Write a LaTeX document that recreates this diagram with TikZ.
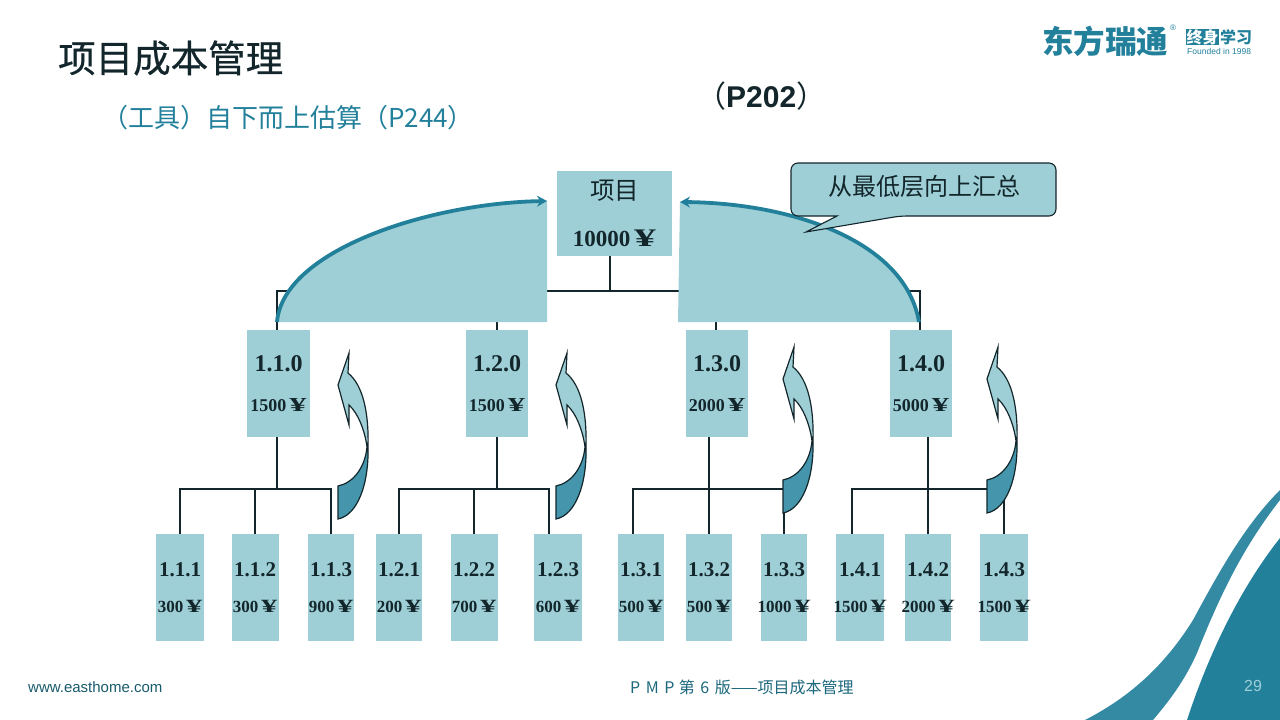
\documentclass[tikz,border=0pt]{standalone}
\usepackage{fontspec}
\setmainfont{Liberation Sans}
\newfontfamily\cjk{Noto Sans CJK SC}
\newfontfamily\cjkheavy{Noto Sans CJK SC}[FakeBold=0.6]
\newfontfamily\numfont{Liberation Serif}
\usepackage{tikz}
\usetikzlibrary{arrows.meta}

\definecolor{boxblue}{HTML}{9FCFD6}
\definecolor{tealdark}{HTML}{22809B}
\definecolor{inkdark}{HTML}{12262B}

\newcommand{\yenmark}{\,\scalebox{1.9}[1.1]{¥}}
\newcommand{\costtext}[2]{\makebox[0pt]{\fontsize{#1}{#1}\selectfont\bfseries #2\yenmark}}

\tikzset{
    itembox/.style={fill=boxblue, inner sep=0pt, align=center, text=inkdark, minimum height=107pt},
    midbox/.style={itembox, font=\numfont\bfseries\fontsize{24}{24}\selectfont},
    leafbox/.style={itembox, font=\numfont\bfseries\fontsize{21}{21}\selectfont},
    treeline/.style={draw=inkdark, line width=1.5pt},
    sweep/.style={draw=tealdark, line width=3.8pt, -{Stealth[length=10pt, width=11pt]}},
    uparrow/.pic={
        \fill [boxblue] (11,0) -- (0,32) -- (11,72) -- (11,52) .. controls (20,60) and (27,78) .. (29,94) -- (30,94) .. controls (31,60) and (25,32) .. (10,20) -- cycle;
        \fill [tealdark!72!boxblue] (29,94) .. controls (27,115) and (15,130) .. (0,133) -- (0,166) .. controls (20,162) and (31,130) .. (30,94) -- cycle;
        \draw [inkdark, line width=1.2pt, line join=miter] (11,0) -- (0,32) -- (11,72) -- (11,52) .. controls (20,60) and (27,78) .. (29,94) .. controls (27,115) and (15,130) .. (0,133) -- (0,166) .. controls (20,162) and (31,130) .. (30,94) .. controls (31,60) and (25,32) .. (10,20) -- cycle;
    }
}

\begin{document}
\begin{tikzpicture}[x=1pt, y=-1pt]
    \useasboundingbox (0,0) rectangle (1280,720);

    % corner waves
    \fill [tealdark!92!white] (1085,720) .. controls (1130,697) and (1165,665) .. (1193,620) .. controls (1220,570) and (1245,525) .. (1280,490) -- (1280,500) .. controls (1245,545) and (1222,590) .. (1197,653) .. controls (1185,680) and (1170,700) .. (1153,720) -- cycle;
    \fill [tealdark] (1187,720) .. controls (1205,665) and (1235,595) .. (1280,538) -- (1280,720) -- cycle;

    % titles
    \node [anchor=west, inner sep=0pt, text=inkdark, font=\cjkheavy\fontsize{37.5}{37.5}\selectfont] (maintitle) at (58,58) {项目成本管理};
    \node [anchor=west, inner sep=0pt, text=tealdark, font=\cjk\fontsize{26}{26}\selectfont] (subtitle) at (102,118) {（工具）自下而上估算（P244）};
    \node [anchor=west, inner sep=0pt, text=inkdark, font=\fontsize{30}{30}\selectfont] (pageref) at (696,96) {{\cjk （}\textbf{P202}{\cjk ）}};

    % logo
    \node [anchor=west, inner sep=0pt, text=tealdark, font=\cjk\bfseries\fontsize{31.5}{31.5}\selectfont] (logotext) at (1042,41) {东方瑞通};
    \node [inner sep=0pt, text=tealdark, font=\fontsize{8}{8}\selectfont] (logomark) at (1173,28) {®};
    \node [anchor=west, inner sep=.5pt, fill=tealdark, text=white, font=\cjk\bfseries\fontsize{16}{16}\selectfont] (logoboxed) at (1186,37) {终身};
    \node [inner sep=.5pt, anchor=west, text=tealdark, font=\cjk\bfseries\fontsize{16}{16}\selectfont] (logoplain) at (logoboxed.east) {学习};
    \node [anchor=west, inner sep=0pt, text=tealdark, font=\fontsize{8.5}{8.5}\selectfont] (logoyear) at (1187,51) {Founded in 1998};

    % root
    \node [itembox, minimum width=115pt, minimum height=85pt, font=\numfont\bfseries\fontsize{23}{23}\selectfont] (root) at (614.5,213.5) {{\cjk\mdseries\fontsize{24.5}{24.5}\selectfont 项目}\\[24pt]10000\yenmark};

    % middle level
    \node [midbox, minimum width=63pt] (item110) at (278.5,383.5) {1.1.0\\[16pt]\costtext{18}{1500}};
    \node [midbox, minimum width=62pt] (item120) at (497,383.5) {1.2.0\\[16pt]\costtext{18}{1500}};
    \node [midbox, minimum width=62pt] (item130) at (717,383.5) {1.3.0\\[16pt]\costtext{18}{2000}};
    \node [midbox, minimum width=62pt] (item140) at (921,383.5) {1.4.0\\[16pt]\costtext{18}{5000}};

    % leaves
    \node [leafbox, minimum width=48pt] (item111) at (180,587.5) {1.1.1\\[15pt]\costtext{17}{300}};
    \node [leafbox, minimum width=47pt] (item112) at (255,587.5) {1.1.2\\[15pt]\costtext{17}{300}};
    \node [leafbox, minimum width=46pt] (item113) at (331,587.5) {1.1.3\\[15pt]\costtext{17}{900}};
    \node [leafbox, minimum width=46pt] (item121) at (399,587.5) {1.2.1\\[15pt]\costtext{17}{200}};
    \node [leafbox, minimum width=47pt] (item122) at (474,587.5) {1.2.2\\[15pt]\costtext{17}{700}};
    \node [leafbox, minimum width=48pt] (item123) at (558,587.5) {1.2.3\\[15pt]\costtext{17}{600}};
    \node [leafbox, minimum width=46pt] (item131) at (641,587.5) {1.3.1\\[15pt]\costtext{17}{500}};
    \node [leafbox, minimum width=46pt] (item132) at (709,587.5) {1.3.2\\[15pt]\costtext{17}{500}};
    \node [leafbox, minimum width=46pt] (item133) at (784,587.5) {1.3.3\\[15pt]\costtext{17}{1000}};
    \node [leafbox, minimum width=48pt] (item141) at (860,587.5) {1.4.1\\[15pt]\costtext{17}{1500}};
    \node [leafbox, minimum width=46pt] (item142) at (928,587.5) {1.4.2\\[15pt]\costtext{17}{2000}};
    \node [leafbox, minimum width=48pt] (item143) at (1004,587.5) {1.4.3\\[15pt]\costtext{17}{1500}};

    % tree, top
    \draw [treeline] (root.south -| 610,0) -- (610,291) -| ([xshift=-1.5pt]item110.north);
    \draw [treeline] (610,291) -| (item120.north);
    \draw [treeline] (610,291) -| ([xshift=-1pt]item130.north);
    \draw [treeline] (610,291) -| ([xshift=-1pt]item140.north);

    % tree, first branch
    \draw [treeline] ([xshift=-1.5pt]item110.south) -- ++(0,52) coordinate (bus1) -| (item111.north);
    \draw [treeline] (bus1) -| (item112.north);
    \draw [treeline] (bus1) -| (item113.north);
    % second branch
    \draw [treeline] (item120.south) -- ++(0,52) coordinate (bus2) -| (item121.north);
    \draw [treeline] (bus2) -| (item122.north);
    \draw [treeline] (bus2) -| ([xshift=-9pt]item123.north);
    % third branch
    \draw [treeline] (item132.north |- item130.south) -- (item132.north);
    \draw [treeline] (item132.north |- bus2) -| ([xshift=-8pt]item131.north);
    \draw [treeline] (item132.north |- bus2) -| (item133.north);
    % fourth branch
    \draw [treeline] (item142.north |- item140.south) -- (item142.north);
    \draw [treeline] (item142.north |- bus2) -| ([xshift=-8pt]item141.north);
    \draw [treeline] (item142.north |- bus2) -| (item143.north);

    % big sweeps up to the root
    \fill [boxblue] (277,322) .. controls (283,250) and (430,203) .. (547,201) -- (547,322) -- cycle;
    \fill [boxblue] (919,322) .. controls (905,240) and (790,203) .. (680,202) -- (678,322) -- cycle;
    \draw [sweep] (277,322) .. controls (283,250) and (430,203) .. (547,201);
    \draw [sweep] (919,322) .. controls (905,240) and (790,203) .. (680,202);

    % small arrows
    \pic at (338,353) {uparrow};
    \pic at (556,353) {uparrow};
    \pic at (783,347) {uparrow};
    \pic at (987,347) {uparrow};

    % callout
    \draw [fill=boxblue, draw=inkdark, line width=1.1pt, rounded corners=7pt] (791,163) -- (1056,163) -- (1056,216) -- (900,216) [sharp corners] -- (806,232) -- (837,216) [rounded corners=7pt] -- (791,216) -- cycle;
    \node [inner sep=0pt, text=inkdark, font=\cjk\fontsize{24}{24}\selectfont] (calloutlabel) at (924,186) {从最低层向上汇总};

    % footer
    \node [anchor=west, inner sep=0pt, text=tealdark!70!black, font=\fontsize{15}{15}\selectfont] (website) at (28,687) {www.easthome.com};
    \node [anchor=west, inner sep=0pt, text=tealdark!80!black, font=\cjk\fontsize{16}{16}\selectfont] (footertitle) at (630,687) {P\hspace{5.5pt}M\hspace{5.5pt}P\hspace{4.5pt}第\hspace{5.5pt}6\hspace{5.5pt}版——项目成本管理};
    \node [inner sep=0pt, text=boxblue, font=\fontsize{16}{16}\selectfont] (pagenumber) at (1253,686) {29};
\end{tikzpicture}
\end{document}
